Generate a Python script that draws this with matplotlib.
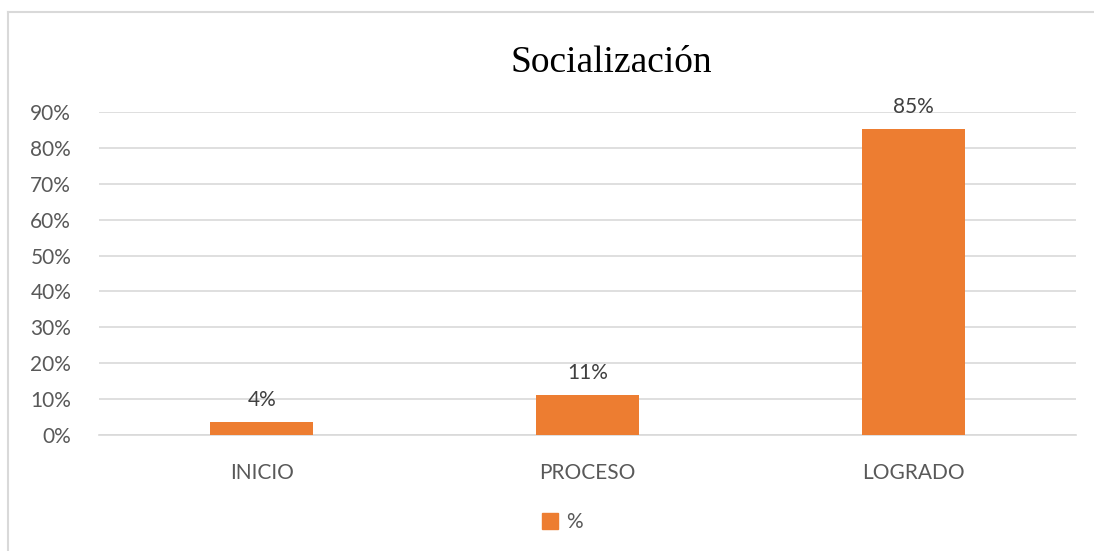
import numpy as np
import matplotlib.pyplot as plt
from matplotlib.ticker import PercentFormatter
from matplotlib.lines import Line2D
from matplotlib.patches import Patch

categories = ['INICIO', 'PROCESO', 'LOGRADO']
values = [0.037, 0.111, 0.852]
series_name = '%'

plt.rcParams['font.family'] = ['Lato', 'DejaVu Sans']

fig = plt.figure(figsize=(10.94, 5.51), dpi=100)
ax = fig.add_axes([0.0905, 0.2105, 0.893, 0.5862])

x = np.arange(len(categories))
ax.bar(x, values, width=0.317, color='#ED7D31', zorder=3)

ax.set_ylim(0, 0.9)
ax.set_xlim(-0.5, len(categories) - 0.5)
ax.set_yticks(np.arange(0, 0.91, 0.1))
ax.yaxis.set_major_formatter(PercentFormatter(1.0, decimals=0))
ax.grid(axis='y', color='#D9D9D9', linewidth=1.2, zorder=0)
ax.set_xticks(x)
ax.set_xticklabels(categories)
ax.tick_params(axis='both', length=0, labelsize=15, labelcolor='#595959')
ax.tick_params(axis='x', pad=20)
ax.tick_params(axis='y', pad=20)
for s in ax.spines.values():
    s.set_visible(False)
ax.spines['bottom'].set_visible(True)
ax.spines['bottom'].set_color('#D9D9D9')
ax.spines['bottom'].set_linewidth(1.2)

for xi, v in zip(x, values):
    ax.text(xi, v + 0.033, f"{v:.0%}", ha='center', va='bottom',
            fontsize=15, color='#404040')

fig.text(0.5585, 0.887, 'Socialización', ha='center', va='center',
         fontsize=27, family='Liberation Serif', color='black')

handles = [Patch(color='#ED7D31', label=series_name)]
fig.legend(handles=handles, loc='center', bbox_to_anchor=(0.514, 0.052),
           frameon=False, fontsize=15, handlelength=0.75, handleheight=0.75,
           handletextpad=0.4, labelcolor='#595959')

# chart frame (left and top edges visible)
fig.add_artist(Line2D([0.0075, 0.0075], [0, 0.978], transform=fig.transFigure,
                      color='#D9D9D9', linewidth=1.5))
fig.add_artist(Line2D([0.0075, 1.0], [0.978, 0.978], transform=fig.transFigure,
                      color='#D9D9D9', linewidth=1.5))

fig.savefig('out.png', dpi=100)
